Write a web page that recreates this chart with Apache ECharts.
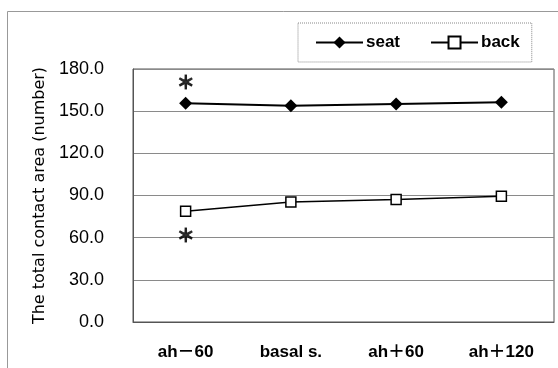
<!DOCTYPE html>
<html>
<head>
<meta charset="utf-8">
<script src="https://cdn.jsdelivr.net/npm/echarts@6/dist/echarts.min.js"></script>
<style>
  html, body { margin: 0; padding: 0; background: #fff; }
  #chart { width: 558px; height: 368px; }
</style>
</head>
<body>
<div id="chart"></div>
<script>
const categories = ['ah－60', 'basal s.', 'ah＋60', 'ah＋120'];
const seatValues = [155.6, 153.8, 155.1, 156.3];
const backValues = [78.8, 85.3, 87.2, 89.5];
// significance marks drawn as "*" at these positions
const starPoints = [['ah－60', 170.5], ['ah－60', 61.8]];
const yTicks = { min: 0, max: 180, interval: 30 };

const font = '"Liberation Sans", "Noto Sans CJK JP", sans-serif';
const narrow = '"Liberation Sans Narrow", "Liberation Sans", sans-serif';

const chart = echarts.init(document.getElementById('chart'), null, { renderer: 'canvas' });

const option = {
  backgroundColor: '#ffffff',
  animation: false,
  graphic: [{
    type: 'rect', left: 5, top: 9, silent: true,
    shape: { width: 600, height: 400 },
    style: { fill: 'none', stroke: '#999', lineWidth: 1 }
  }],
  legend: {
    data: ['seat', 'back'],
    left: 298, top: 23,
    padding: [11, 12, 11, 17],
    itemWidth: 47, itemHeight: 15, itemGap: 30,
    borderColor: '#888', borderWidth: 1, borderType: 'dotted',
    textStyle: { fontFamily: font, fontSize: 17, color: '#000', fontWeight: 'bold', padding: [0, 0, 0, -2] }
  },
  grid: { left: 133, right: 4, top: 69, bottom: 46, show: true, borderColor: '#555', borderWidth: 1 },
  xAxis: {
    type: 'category', data: categories, boundaryGap: true,
    axisLine: { lineStyle: { color: '#555', width: 1 } },
    axisTick: { inside: true, length: 5, lineStyle: { color: '#555' } },
    axisLabel: { margin: 22, fontFamily: font, fontSize: 17, color: '#000', fontWeight: 'bold' }
  },
  yAxis: {
    type: 'value', min: yTicks.min, max: yTicks.max, interval: yTicks.interval,
    name: 'The total contact area (number)',
    nameLocation: 'middle', nameGap: 83,
    nameTextStyle: { fontFamily: '"DejaVu Sans", sans-serif', fontSize: 16, color: '#000' },
    axisLine: { show: true, lineStyle: { color: '#555' } },
    axisTick: { show: false },
    splitLine: { lineStyle: { color: '#8a8a8a', width: 1 } },
    axisLabel: {
      margin: 29, fontFamily: narrow, fontSize: 18, color: '#000',
      padding: [6, 0, 0, 0],
      formatter: v => v.toFixed(1)
    }
  },
  series: [
    {
      name: 'seat', type: 'line', data: seatValues,
      symbol: 'diamond', symbolSize: [13, 13],
      itemStyle: { color: '#000' },
      lineStyle: { color: '#000', width: 2 }
    },
    {
      name: 'back', type: 'line', data: backValues,
      symbol: 'rect', symbolSize: 10,
      itemStyle: { color: '#fff', borderColor: '#000', borderWidth: 1.5 },
      lineStyle: { color: '#000', width: 1.5 }
    },
    {
      name: 'sig', type: 'scatter', data: starPoints,
      symbolSize: 0, silent: true,
      label: {
        show: true, position: 'inside', formatter: '＊',
        fontFamily: '"Noto Sans CJK JP", sans-serif', fontSize: 18, color: '#000', fontWeight: 'bold',
        textBorderColor: '#000', textBorderWidth: 1
      }
    }
  ]
};

chart.setOption(option);
</script>
</body>
</html>
